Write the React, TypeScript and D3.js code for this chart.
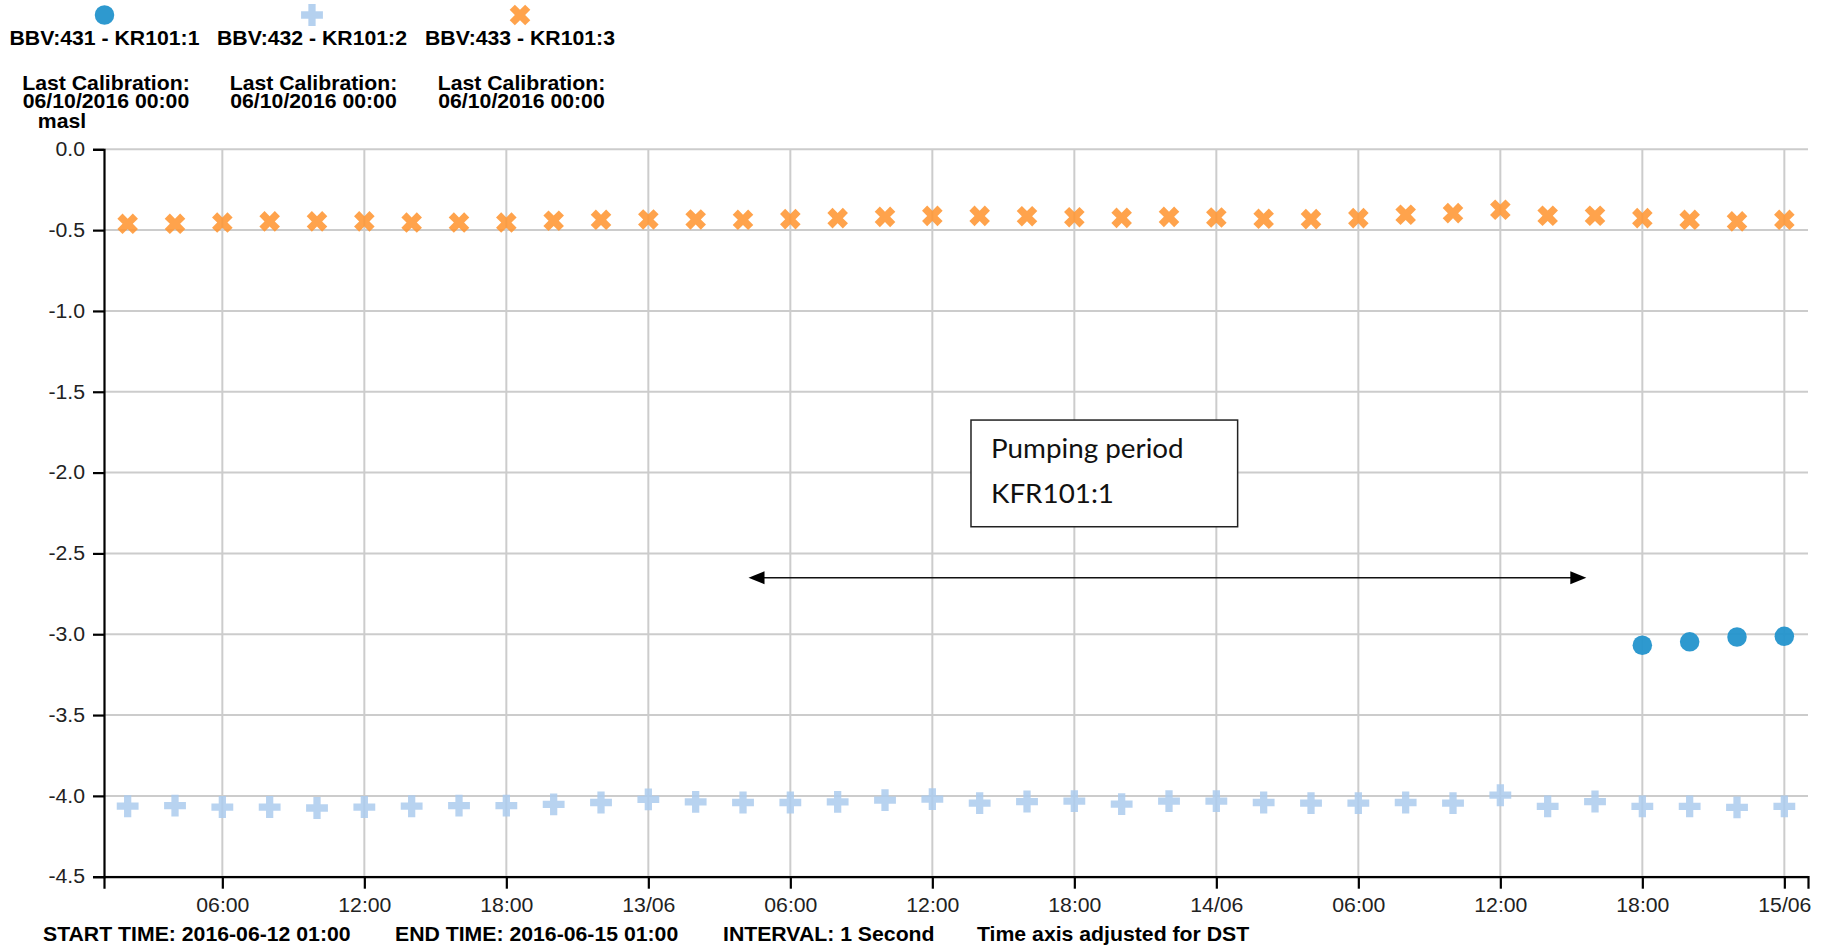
import React, { useEffect, useRef } from "react";
import * as d3 from "d3";

// ---- chart data ----
const seriesNames = ["BBV:431 - KR101:1", "BBV:432 - KR101:2", "BBV:433 - KR101:3"];
const calibrationLabel = "Last Calibration:";
const calibrationDates = ["06/10/2016 00:00", "06/10/2016 00:00", "06/10/2016 00:00"];
const unitLabel = "masl";

const startTime = "2016-06-12T01:00";
const endTime = "2016-06-15T01:00";

// two-hourly readings for KR101:2 and KR101:3
const sampleTimes = [
  "2016-06-12T02:00", "2016-06-12T04:00", "2016-06-12T06:00", "2016-06-12T08:00",
  "2016-06-12T10:00", "2016-06-12T12:00", "2016-06-12T14:00", "2016-06-12T16:00",
  "2016-06-12T18:00", "2016-06-12T20:00", "2016-06-12T22:00", "2016-06-13T00:00",
  "2016-06-13T02:00", "2016-06-13T04:00", "2016-06-13T06:00", "2016-06-13T08:00",
  "2016-06-13T10:00", "2016-06-13T12:00", "2016-06-13T14:00", "2016-06-13T16:00",
  "2016-06-13T18:00", "2016-06-13T20:00", "2016-06-13T22:00", "2016-06-14T00:00",
  "2016-06-14T02:00", "2016-06-14T04:00", "2016-06-14T06:00", "2016-06-14T08:00",
  "2016-06-14T10:00", "2016-06-14T12:00", "2016-06-14T14:00", "2016-06-14T16:00",
  "2016-06-14T18:00", "2016-06-14T20:00", "2016-06-14T22:00", "2016-06-15T00:00",
];

const kr3Values = [
  -0.461, -0.461, -0.453, -0.446, -0.446, -0.446, -0.453, -0.453,
  -0.453, -0.442, -0.436, -0.434, -0.434, -0.436, -0.432, -0.426,
  -0.418, -0.412, -0.412, -0.414, -0.420, -0.424, -0.418, -0.422,
  -0.430, -0.432, -0.426, -0.405, -0.395, -0.374, -0.411, -0.411,
  -0.426, -0.436, -0.446, -0.436,
];

const kr2Values = [
  -4.064, -4.060, -4.069, -4.069, -4.075, -4.069, -4.064, -4.060,
  -4.060, -4.053, -4.041, -4.022, -4.037, -4.041, -4.041, -4.037,
  -4.026, -4.020, -4.045, -4.035, -4.032, -4.051, -4.032, -4.032,
  -4.041, -4.045, -4.045, -4.041, -4.045, -3.996, -4.065, -4.035,
  -4.065, -4.065, -4.071, -4.065,
];

// KR101:1 only reports at the end of the window
const kr1Times = ["2016-06-14T18:00", "2016-06-14T20:00", "2016-06-14T22:00", "2016-06-15T00:00"];
const kr1Values = [-3.068, -3.047, -3.017, -3.013];

const yTicks = [0, -0.5, -1, -1.5, -2, -2.5, -3, -3.5, -4, -4.5];

const footerTexts = [
  "START TIME: 2016-06-12 01:00",
  "END TIME: 2016-06-15 01:00",
  "INTERVAL: 1 Second",
  "Time axis adjusted for DST",
];

// annotation of the pumping period, in data units
const noteLines = ["Pumping period", "KFR101:1"];
const noteBox = { t0: "2016-06-13T13:38", t1: "2016-06-14T00:54", v0: -1.675, v1: -2.335 };
const noteArrow = { t0: "2016-06-13T04:14", t1: "2016-06-14T15:38", v: -2.651 };

// ---- styling ----
const W = 1825;
const H = 945;
const plot = { left: 104, right: 1808, top: 149.3, bottom: 876.7 };
const SX = 1.09; // horizontal stretch applied to all Arial-style text
const FONT = "'Liberation Sans', Arial, sans-serif";
const colors = ["#2394cc", "#abcbed", "#ff9633"];
const gridColor = "#cccccc";

const parse = d3.utcParse("%Y-%m-%dT%H:%M");

export default function App() {
  const ref = useRef<SVGSVGElement | null>(null);

  useEffect(() => {
    const svg = d3.select(ref.current);
    svg.selectAll("*").remove();

    const x = d3
      .scaleUtc()
      .domain([parse(startTime)!, parse(endTime)!])
      .range([plot.left, plot.right]);
    const y = d3.scaleLinear().domain([-4.5, 0]).range([plot.bottom, plot.top]);

    const xTickValues = x.ticks(d3.utcHour.every(6)!);
    const fmtDay = d3.utcFormat("%d/%m");
    const fmtHour = d3.utcFormat("%H:%M");

    const stretchedText = (
      g: d3.Selection<any, any, any, any>,
      txt: string,
      px: number,
      py: number,
      anchor: string,
      weight: string,
      size: number
    ) =>
      g
        .append("text")
        .attr("x", px / SX)
        .attr("y", py)
        .attr("transform", `scale(${SX},1)`)
        .attr("text-anchor", anchor)
        .attr("font-family", FONT)
        .attr("font-weight", weight)
        .attr("font-size", size)
        .attr("fill", "#000")
        .text(txt);

    // grid
    const grid = svg.append("g");
    grid
      .selectAll("line.h")
      .data(yTicks)
      .join("line")
      .attr("x1", plot.left)
      .attr("x2", plot.right)
      .attr("y1", (d) => y(d))
      .attr("y2", (d) => y(d))
      .attr("stroke", gridColor)
      .attr("stroke-width", 2);
    grid
      .selectAll("line.v")
      .data(xTickValues)
      .join("line")
      .attr("x1", (d) => x(d))
      .attr("x2", (d) => x(d))
      .attr("y1", plot.top)
      .attr("y2", plot.bottom)
      .attr("stroke", gridColor)
      .attr("stroke-width", 2);

    // annotation box
    const ann = svg.append("g");
    const bx0 = x(parse(noteBox.t0)!);
    const bx1 = x(parse(noteBox.t1)!);
    const by0 = y(noteBox.v0);
    const by1 = y(noteBox.v1);
    ann
      .append("rect")
      .attr("x", bx0)
      .attr("y", by0)
      .attr("width", bx1 - bx0)
      .attr("height", by1 - by0)
      .attr("fill", "#fff")
      .attr("stroke", "#222")
      .attr("stroke-width", 1.5);
    noteLines.forEach((line, i) => {
      ann
        .append("text")
        .attr("x", (bx0 + 20) / 1.07)
        .attr("y", by0 + 38 + i * 45)
        .attr("transform", "scale(1.07,1)")
        .attr("font-family", "Lato, 'Open Sans', sans-serif")
        .attr("font-size", 26)
        .attr("fill", "#111")
        .text(line);
    });

    // double-headed arrow
    const ax0 = x(parse(noteArrow.t0)!);
    const ax1 = x(parse(noteArrow.t1)!);
    const ay = y(noteArrow.v);
    const head = 16;
    const half = 6.5;
    ann
      .append("line")
      .attr("x1", ax0 + head - 2)
      .attr("x2", ax1 - head + 2)
      .attr("y1", ay)
      .attr("y2", ay)
      .attr("stroke", "#111")
      .attr("stroke-width", 1.6);
    ann
      .append("path")
      .attr("d", `M${ax0},${ay}L${ax0 + head},${ay - half}L${ax0 + head},${ay + half}Z`)
      .attr("fill", "#000");
    ann
      .append("path")
      .attr("d", `M${ax1},${ay}L${ax1 - head},${ay - half}L${ax1 - head},${ay + half}Z`)
      .attr("fill", "#000");

    // axes
    const styleTicks = (g: d3.Selection<any, any, any, any>) => {
      g.select(".domain").attr("stroke", "#000").attr("stroke-width", 2.2);
      g.selectAll(".tick line").attr("stroke", "#000").attr("stroke-width", 2.2);
      g.selectAll<SVGTextElement, unknown>(".tick text").each(function () {
        const t = d3.select(this);
        const tx = +(t.attr("x") || 0);
        t.attr("x", tx / SX).attr("transform", `scale(${SX},1)`);
      });
      g.attr("font-family", FONT).attr("font-size", 19.5);
      g.selectAll(".tick text").attr("fill", "#222");
    };

    const yAxis = d3
      .axisLeft(y)
      .tickValues(yTicks)
      .tickFormat((d) => (+d).toFixed(1))
      .tickSize(11)
      .tickPadding(8);
    svg
      .append("g")
      .attr("transform", `translate(${plot.left},0)`)
      .call(yAxis)
      .call(styleTicks);

    const xAxis = d3
      .axisBottom(x)
      .tickValues(xTickValues)
      .tickFormat((d) => {
        const dt = d as Date;
        return dt.getUTCHours() === 0 ? fmtDay(dt) : fmtHour(dt);
      })
      .tickSize(12)
      .tickPadding(9);
    svg
      .append("g")
      .attr("transform", `translate(0,${plot.bottom})`)
      .call(xAxis)
      .call(styleTicks);

    // markers
    const plusPath = d3.symbol().type(d3.symbolCross).size(265)()!;
    const circlePath = d3.symbol().type(d3.symbolCircle).size(300)()!;

    const marks = svg.append("g");
    marks
      .selectAll("path.kr2")
      .data(kr2Values)
      .join("path")
      .attr("d", plusPath)
      .attr("transform", (d, i) => `translate(${x(parse(sampleTimes[i])!)},${y(d)})`)
      .attr("fill", colors[1])
      .attr("fill-opacity", 0.85);
    marks
      .selectAll("path.kr3")
      .data(kr3Values)
      .join("path")
      .attr("d", plusPath)
      .attr("transform", (d, i) => `translate(${x(parse(sampleTimes[i])!)},${y(d)}) rotate(45)`)
      .attr("fill", colors[2])
      .attr("fill-opacity", 0.88);
    marks
      .selectAll("path.kr1")
      .data(kr1Values)
      .join("path")
      .attr("d", circlePath)
      .attr("transform", (d, i) => `translate(${x(parse(kr1Times[i])!)},${y(d)})`)
      .attr("fill", colors[0])
      .attr("fill-opacity", 0.95);

    // legend
    const legendX = [104.5, 312, 520];
    const legend = svg.append("g");
    seriesNames.forEach((name, i) => {
      const cx = legendX[i];
      const sym = i === 0 ? circlePath : plusPath;
      legend
        .append("path")
        .attr("d", sym)
        .attr("transform", `translate(${cx},15)${i === 2 ? " rotate(45)" : ""}`)
        .attr("fill", colors[i])
        .attr("fill-opacity", i === 0 ? 0.95 : 0.88);
      stretchedText(legend, name, cx, 45, "middle", "bold", 19.5);
      stretchedText(legend, calibrationLabel, cx + 1.5, 90, "middle", "bold", 19.5);
      stretchedText(legend, calibrationDates[i], cx + 1.5, 108.5, "middle", "bold", 19.5);
    });
    stretchedText(legend, unitLabel, 62, 128, "middle", "bold", 19.5);

    // footer
    const footerX = [43, 395, 723, 977];
    const footer = svg.append("g");
    footerTexts.forEach((t, i) => stretchedText(footer, t, footerX[i], 941, "start", "bold", 19.5));
  }, []);

  return (
    <svg
      ref={ref}
      width={W}
      height={H}
      style={{ position: "absolute", left: 0, top: 0, background: "#fff" }}
    />
  );
}
